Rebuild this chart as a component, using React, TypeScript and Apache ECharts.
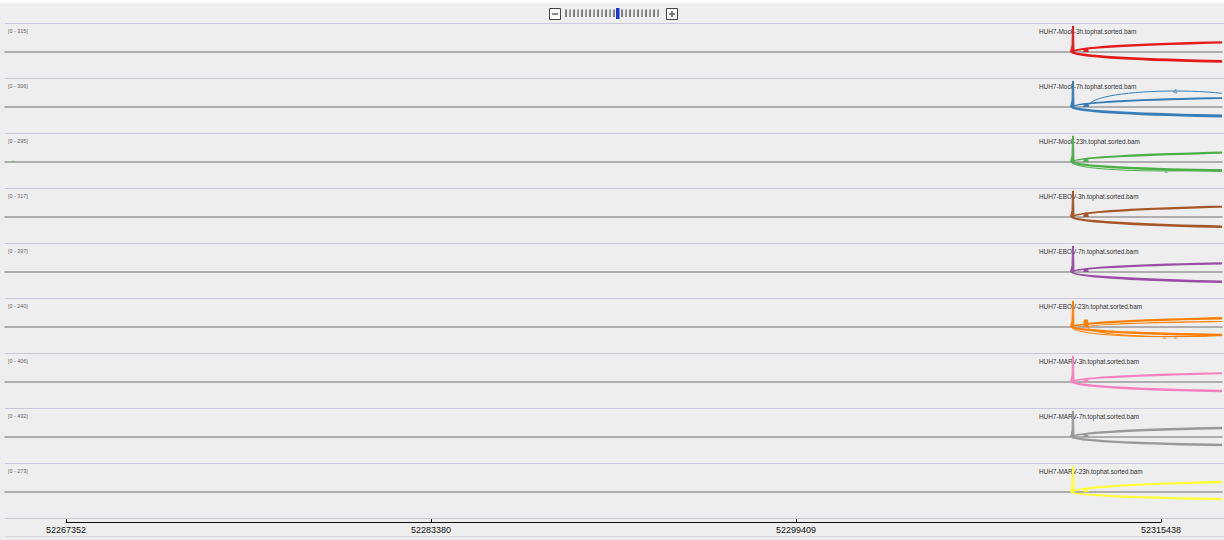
import { useEffect, useRef } from "react";
import * as echarts from "echarts";

// ---- tracks ----
const trackNames = [
  "HUH7-Mock-3h.tophat.sorted.bam",
  "HUH7-Mock-7h.tophat.sorted.bam",
  "HUH7-Mock-23h.tophat.sorted.bam",
  "HUH7-EBOV-3h.tophat.sorted.bam",
  "HUH7-EBOV-7h.tophat.sorted.bam",
  "HUH7-EBOV-23h.tophat.sorted.bam",
  "HUH7-MARV-3h.tophat.sorted.bam",
  "HUH7-MARV-7h.tophat.sorted.bam",
  "HUH7-MARV-23h.tophat.sorted.bam",
];
const rangeMax = [315, 306, 295, 317, 397, 240, 406, 492, 273];
const trackColors = [
  "#e41a1c", "#377eb8", "#4daf4a", "#a65628", "#984ea3",
  "#ff7f00", "#f781bf", "#999999", "#ffff33",
];

// ---- visible locus ----
const locusStart = 52264673;
const locusEnd = 52318116;
const rulerTicks = [52267352, 52283380, 52299409, 52315438];

// ---- coverage (reads) ----
const spikePos = [52311463, 52311529, 52311551, 52311595, 52311617];
const spikeCov = [
  [0, 80, 315, 315, 0],
  [0, 78, 306, 306, 0],
  [0, 75, 295, 295, 0],
  [0, 80, 317, 317, 0],
  [0, 100, 397, 397, 0],
  [0, 60, 240, 240, 0],
  [0, 100, 406, 406, 0],
  [0, 120, 492, 492, 0],
  [0, 70, 273, 273, 0],
];
const bumpPos = [52312050, 52312070, 52312215, 52312240];
const bumpCov = [
  [0, 36, 36, 0],
  [0, 35, 35, 0],
  [0, 32, 32, 0],
  [0, 48, 48, 0],
  [0, 45, 45, 0],
  [0, 65, 65, 0],
  [0, 45, 45, 0],
  [0, 40, 40, 0],
  [0, 30, 30, 0],
];
const strayPos = [52264995, 52265024, 52265053];
const strayCov = [null, null, [0, 12, 0], null, null, null, null, null, null];

// ---- splice junctions: [start, end, arc height (reads, negative = below), read count] ----
const J0 = 52311529;
const J1 = 52312232;
const JE = 52346660;
const junctions = [
  [[J0, JE, 194, 60], [J0, JE, -190, 90]],
  [[J0, JE, 177, 45], [J0, JE, -177, 100], [J1, 52319873, 251, 4]],
  [[J0, JE, 176, 55], [J0, JE, -165, 80], [J0, 52319785, -136, 1]],
  [[J0, JE, 210, 60], [J0, JE, -198, 75]],
  [[J0, JE, 222, 55], [J0, JE, -248, 70]],
  [[J0, JE, 134, 60], [J1, JE, 88, 15], [J0, JE, -124, 70], [J0, 52319697, -119, 2], [J1, 52319960, -119, 2]],
  [[J0, JE, 227, 50], [J0, JE, -235, 75]],
  [[J0, JE, 284, 65], [J0, JE, -253, 70]],
  [[J0, JE, 175, 65], [J0, JE, -123, 60]],
];

const TRACK_TOP = 23;
const TRACK_H = 55;
const FONT = "'Liberation Sans', Arial, sans-serif";

function arcWidth(count: number) {
  return Math.max(1, Math.min(3, Math.sqrt(count) * 0.3));
}

function buildOption() {
  const grids: any[] = [];
  const xAxes: any[] = [];
  const yAxes: any[] = [];
  const series: any[] = [];
  const graphics: any[] = [];

  graphics.push({ type: "rect", z: 0, shape: { x: 0, y: 0, width: 1224, height: 3 }, style: { fill: "#ffffff" } });
  for (let k = 0; k <= trackNames.length; k++) {
    const y = TRACK_TOP + TRACK_H * k + 0.5;
    graphics.push({ type: "line", z: 0, shape: { x1: 5, y1: y, x2: 1224, y2: y }, style: { stroke: "#c9c9db", lineWidth: 1 } });
  }
  graphics.push({ type: "line", z: 0, shape: { x1: 5, y1: 536.5, x2: 1224, y2: 536.5 }, style: { stroke: "#d4d4de", lineWidth: 1 } });

  // zoom widget
  graphics.push({ type: "rect", z: 1, shape: { x: 549.5, y: 8.5, width: 11, height: 11 }, style: { fill: "#fafafa", stroke: "#444", lineWidth: 1 } });
  graphics.push({ type: "line", z: 1, shape: { x1: 552, y1: 14, x2: 558, y2: 14 }, style: { stroke: "#444", lineWidth: 1.2 } });
  graphics.push({ type: "rect", z: 1, shape: { x: 666.5, y: 8.5, width: 11, height: 11 }, style: { fill: "#fafafa", stroke: "#444", lineWidth: 1 } });
  graphics.push({ type: "line", z: 1, shape: { x1: 669, y1: 14, x2: 675, y2: 14 }, style: { stroke: "#444", lineWidth: 1.2 } });
  graphics.push({ type: "line", z: 1, shape: { x1: 672, y1: 11, x2: 672, y2: 17 }, style: { stroke: "#444", lineWidth: 1.2 } });
  for (let i = 0; i < 24; i++) {
    const x = 566 + 4 * i;
    if (i === 13) {
      graphics.push({ type: "rect", z: 1, shape: { x: x - 2, y: 8, width: 3.5, height: 11 }, style: { fill: "#1a35d6" } });
    } else {
      graphics.push({ type: "rect", z: 1, shape: { x: x - 0.6, y: 9.5, width: 1.3, height: 7.5 }, style: { fill: i % 2 ? "#666" : "#444" } });
    }
  }

  trackNames.forEach((name, i) => {
    const top = TRACK_TOP + TRACK_H * i;
    const R = rangeMax[i];
    const color = trackColors[i];

    graphics.push({
      type: "text", z: 1, x: 8, y: top + 8,
      style: { text: `[0 - ${R}]`, fontSize: 5.4, fontFamily: FONT, fill: "#666", verticalAlign: "middle" },
    });
    graphics.push({
      type: "text", z: 1, x: 1039, y: top + 8,
      style: { text: name, fontSize: 6.4, fontFamily: FONT, fill: "#333", verticalAlign: "middle" },
    });

    grids.push({ left: 5, right: 2, top: top + 3, height: 52 });
    xAxes.push({
      type: "value", gridIndex: i, min: locusStart, max: locusEnd,
      axisLine: { show: true, onZero: true, lineStyle: { color: "#999", width: 1.6 } },
      axisTick: { show: false }, axisLabel: { show: false }, splitLine: { show: false },
    });
    yAxes.push({ type: "value", gridIndex: i, min: -R, max: R, show: false, splitLine: { show: false } });

    const cov: any[] = [];
    const stray = strayCov[i];
    if (stray) {
      strayPos.forEach((p, k) => cov.push([p, stray[k]]));
      cov.push([strayPos[2] + 1, "-"]);
    }
    spikePos.forEach((p, k) => cov.push([p, spikeCov[i][k]]));
    cov.push([spikePos[4] + 1, "-"]);
    bumpPos.forEach((p, k) => cov.push([p, bumpCov[i][k]]));

    series.push({
      type: "custom",
      name: name + " junctions",
      xAxisIndex: i, yAxisIndex: i,
      clip: true, z: 3, silent: true,
      encode: { x: [0, 1], y: 2 },
      data: junctions[i],
      renderItem: (params: any, api: any) => {
        const x0 = api.value(0), x1 = api.value(1), h = api.value(2), n = api.value(3);
        const p0 = api.coord([x0, 0]);
        const p1 = api.coord([x1, 0]);
        const ph = api.coord([x0, h]);
        const apex = api.coord([(x0 + x1) / 2, h * 0.75]);
        const cs = params.coordSys;
        const children: any[] = [
          {
            type: "bezierCurve",
            shape: { x1: p0[0], y1: p0[1], x2: p1[0], y2: p1[1], cpx1: p0[0], cpy1: ph[1], cpx2: p1[0], cpy2: ph[1] },
            style: { stroke: color, fill: "none", lineWidth: arcWidth(n) },
          },
        ];
        // count label at the arc's apex, only when the apex is inside the view
        if (apex[0] > cs.x + 6 && apex[0] < cs.x + cs.width - 6) {
          children.push({
            type: "text",
            x: apex[0], y: apex[1],
            style: { text: String(n), fontSize: 8, fontFamily: FONT, fill: color, opacity: 0.85, align: "center", verticalAlign: "middle" },
          });
        }
        return { type: "group", children };
      },
    });

    series.push({
      type: "line",
      name: name + " coverage",
      xAxisIndex: i, yAxisIndex: i,
      data: cov, connectNulls: false,
      symbol: "none", silent: true, z: 4,
      lineStyle: { color, width: 1 },
      areaStyle: { color, opacity: 1 },
    });
  });

  // ruler
  const ri = trackNames.length;
  grids.push({ left: 66, right: 63, top: 512, height: 10 });
  xAxes.push({
    type: "value", gridIndex: ri, min: rulerTicks[0], max: rulerTicks[rulerTicks.length - 1],
    position: "bottom",
    axisLine: { show: true, onZero: false, lineStyle: { color: "#111", width: 1 } },
    axisTick: { show: true, inside: true, length: 3, customValues: rulerTicks, lineStyle: { color: "#111" } },
    axisLabel: {
      show: true, customValues: rulerTicks, margin: 3, fontSize: 9, fontFamily: FONT, color: "#111",
      showMinLabel: true, showMaxLabel: true,
      formatter: (v: number) => String(Math.round(v)),
    },
    splitLine: { show: false },
  });
  yAxes.push({ type: "value", gridIndex: ri, show: false, min: 0, max: 1 });

  return {
    animation: false,
    backgroundColor: "#eeeeee",
    grid: grids,
    xAxis: xAxes,
    yAxis: yAxes,
    series,
    graphic: { elements: graphics },
  };
}

export default function App() {
  const ref = useRef<HTMLDivElement>(null);
  useEffect(() => {
    if (!ref.current) return;
    const chart = echarts.init(ref.current, undefined, { renderer: "svg" });
    chart.setOption(buildOption() as any);
    return () => chart.dispose();
  }, []);
  return <div ref={ref} style={{ position: "absolute", left: 0, top: 0, width: 1224, height: 540 }} />;
}
